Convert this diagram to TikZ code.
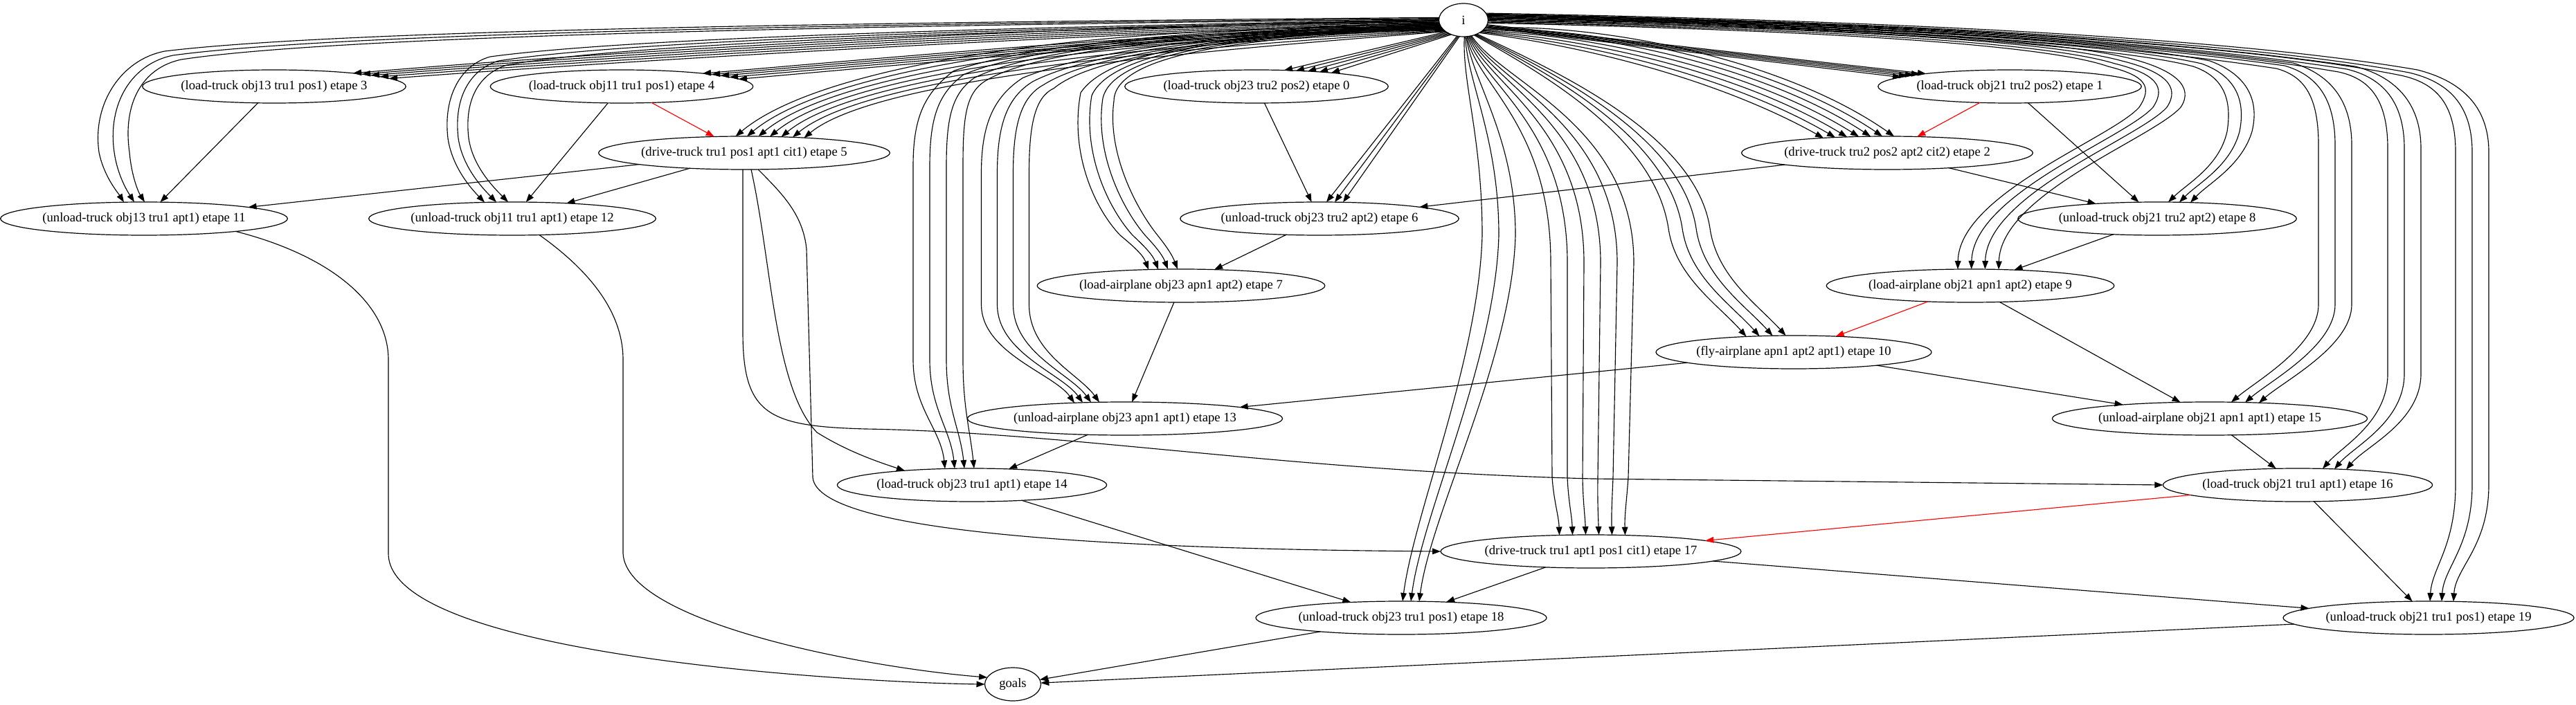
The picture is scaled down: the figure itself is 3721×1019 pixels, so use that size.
\documentclass[tikz,border=0pt]{standalone}
\usepackage{fontspec}
\setmainfont{Liberation Serif}
\usetikzlibrary{shapes.geometric,arrows.meta,calc}
\newcommand\tpc[4]{\coordinate (#1) at ($(#2.center)+({#3},{-24*sqrt(1-((#3)/(#4))^2)})$);}
\newcommand\bpc[4]{\coordinate (#1) at ($(#2.center)+({#3},{24*sqrt(1-((#3)/(#4))^2)})$);}
\begin{document}
\begin{tikzpicture}[x=0.75pt,y=-0.75pt,
  nd/.style={draw,ellipse,line width=0.9pt,inner sep=0pt,outer sep=0pt,minimum height=36pt,font=\fontsize{14}{16}\selectfont},
  ew/.style={minimum width=#1*0.75pt},
  e/.style={line width=0.85pt,-{Triangle[length=9pt,width=6.5pt]}},
  er/.style={e,red}]
\useasboundingbox (0,0) rectangle (3721,1019);
% nodes
\node[nd,ew=71]  (i)   at (2114,29)  {i};
\node[nd,ew=378] (n0)  at (1815,125) {(load-truck obj23 tru2 pos2) etape 0};
\node[nd,ew=377] (n1)  at (2903,125) {(load-truck obj21 tru2 pos2) etape 1};
\node[nd,ew=412] (n2)  at (2726,221) {(drive-truck tru2 pos2 apt2 cit2) etape 2};
\node[nd,ew=378] (n3)  at (396,125)  {(load-truck obj13 tru1 pos1) etape 3};
\node[nd,ew=377] (n4)  at (898,125)  {(load-truck obj11 tru1 pos1) etape 4};
\node[nd,ew=413] (n5)  at (1075,221) {(drive-truck tru1 pos1 apt1 cit1) etape 5};
\node[nd,ew=395] (n6)  at (1906,316) {(unload-truck obj23 tru2 apt2) etape 6};
\node[nd,ew=406] (n7)  at (1706,413) {(load-airplane obj23 apn1 apt2) etape 7};
\node[nd,ew=394] (n8)  at (3116,316) {(unload-truck obj21 tru2 apt2) etape 8};
\node[nd,ew=405] (n9)  at (2846,413) {(load-airplane obj21 apn1 apt2) etape 9};
\node[nd,ew=388] (n10) at (2591,509) {(fly-airplane apn1 apt2 apt1) etape 10};
\node[nd,ew=409] (n11) at (208,316)  {(unload-truck obj13 tru1 apt1) etape 11};
\node[nd,ew=407] (n12) at (740,316)  {(unload-truck obj11 tru1 apt1) etape 12};
\node[nd,ew=441] (n13) at (1625,605) {(unload-airplane obj23 apn1 apt1) etape 13};
\node[nd,ew=383] (n14) at (1404,701) {(load-truck obj23 tru1 apt1) etape 14};
\node[nd,ew=439] (n15) at (3192,605) {(unload-airplane obj21 apn1 apt1) etape 15};
\node[nd,ew=384] (n16) at (3319,701) {(load-truck obj21 tru1 apt1) etape 16};
\node[nd,ew=426] (n17) at (2298,797) {(drive-truck tru1 apt1 pos1 cit1) etape 17};
\node[nd,ew=418] (n18) at (2024,893) {(unload-truck obj23 tru1 pos1) etape 18};
\node[nd,ew=413] (n19) at (3508,893) {(unload-truck obj21 tru1 pos1) etape 19};
\node[nd,ew=81]  (goals) at (1463,989) {goals};
% ---- bundles from i ----
% n11
\foreach \k [evaluate=\k as \ang using {int(176+2*\k)}] in {-1,0,1}{
  \tpc{E}{n11}{-14+15*\k}{204.5}
  \draw[e] (i.\ang) .. controls (1300,{34+2*\k}) and (500,{46+4*\k}) .. ({250+12*\k},{80+6*\k})
    .. controls ({190+15*\k},{92+6*\k}) and ({155+22*\k},150) .. ({165+22*\k},220)
    .. controls ({170+20*\k},255) and ({185+15*\k},278) .. (E);
}
% n12
\foreach \k [evaluate=\k as \ang using {int(181+2*\k)}] in {-1,0,1}{
  \tpc{E}{n12}{-23+17*\k}{203.5}
  \draw[e] (i.\ang) .. controls (1400,{42+2*\k}) and (900,{60+4*\k}) .. ({720+12*\k},{88+6*\k})
    .. controls ({680+15*\k},{100+6*\k}) and ({655+15*\k},140) .. ({662+15*\k},200)
    .. controls ({668+15*\k},240) and ({695+17*\k},270) .. (E);
}
% n3
\foreach \k [evaluate=\k as \ang using {int(185+2*\k)}] in {-2,...,2}{
  \tpc{E}{n3}{140+13*\k}{189}
  \draw[e] (i.\ang) .. controls (1600,{40+3*\k}) and (900,{80+4*\k}) .. (E);
}
% n14
\foreach \k [evaluate=\k as \ang using {int(189+2*\k)}] in {-1.5,-0.5,0.5,1.5}{
  \tpc{E}{n14}{-18+14*\k}{191.5}
  \draw[e] (i.\ang) .. controls (1750,{45+2*\k}) and (1500,{65+3*\k}) .. ({1400+15*\k},{110+5*\k})
    .. controls ({1365+20*\k},135) and ({1355+24*\k},170) .. ({1355+24*\k},240)
    -- ({1355+24*\k},520) .. controls ({1355+24*\k},590) and ({1380+14*\k},620) .. (E);
}
% n13
\foreach \k [evaluate=\k as \ang using {int(193+2*\k)}] in {-1.5,-0.5,0.5,1.5}{
  \tpc{E}{n13}{-55+12*\k}{220.5}
  \draw[e] (i.\ang) .. controls (1780,{50+2*\k}) and (1580,{75+3*\k}) .. ({1500+15*\k},{120+5*\k})
    .. controls ({1465+20*\k},140) and ({1452+23*\k},180) .. ({1452+23*\k},250)
    -- ({1452+23*\k},440) .. controls ({1452+23*\k},510) and ({1540+12*\k},540) .. (E);
}
% n4
\foreach \k [evaluate=\k as \ang using {int(197+2*\k)}] in {-2,...,2}{
  \tpc{E}{n4}{143+13*\k}{188.5}
  \draw[e] (i.\ang) .. controls (1700,{50+3*\k}) and (1300,{88+3*\k}) .. (E);
}
% n7
\foreach \k [evaluate=\k as \ang using {int(201+2*\k)}] in {-1.5,-0.5,0.5,1.5}{
  \tpc{E}{n7}{-26+14*\k}{203}
  \draw[e] (i.\ang) .. controls (1850,{48+2*\k}) and (1610,{65+3*\k}) .. ({1585+16*\k},{140+4*\k})
    .. controls ({1572+18*\k},220) and ({1610+20*\k},300) .. ({1645+18*\k},340)
    .. controls ({1660+16*\k},355) and ({1672+14*\k},368) .. (E);
}
% n5
\foreach \k [evaluate=\k as \ang using {int(207+2*\k)}] in {-3,...,3}{
  \tpc{E}{n5}{37+16.5*\k}{206.5}
  \draw[e] (i.\ang) .. controls (1650,{55+8*\k}) and ({1230+10*\k},{100+6*\k}) .. (E);
}
% n0
\foreach \k [evaluate=\k as \ang using {int(222+4*\k)}] in {-2,...,2}{
  \tpc{E}{n0}{74+17*\k}{189}
  \draw[e] (i.\ang) -- (E);
}
% n6
\foreach \k [evaluate=\k as \ang using {int(252+4*\k)}] in {-1,0,1}{
  \tpc{E}{n6}{22+12*\k}{197.5}
  \draw[e] (i.\ang) -- (E);
}
% n18
\foreach \k [evaluate=\k as \ang using {int(276+3*\k)}] in {-1,0,1}{
  \tpc{E}{n18}{14+12*\k}{209}
  \draw[e] (i.\ang) .. controls ({2120+8*\k},120) and ({2165+24*\k},200) .. ({2165+24*\k},340)
    .. controls ({2160+24*\k},520) and ({2055+12*\k},740) .. (E);
}
% n17
\foreach \k [evaluate=\k as \ang using {int(290+3*\k)}] in {-2.5,-1.5,-0.5,0.5,1.5,2.5}{
  \tpc{E}{n17}{2+19*\k}{213}
  \draw[e] (i.\ang) .. controls ({2150+8*\k},120) and ({2300+24*\k},180) .. ({2300+24*\k},380)
    -- ({2297+22*\k},690) .. controls ({2297+21*\k},725) and ({2299+19*\k},745) .. (E);
}
% n10
\foreach \k [evaluate=\k as \ang using {int(310+3*\k)}] in {-1.5,-0.5,0.5,1.5}{
  \tpc{E}{n10}{-40+19*\k}{194}
  \draw[e] (i.\ang) .. controls ({2250+10*\k},110) and ({2420+20*\k},200) .. ({2440+20*\k},330)
    .. controls ({2450+20*\k},400) and ({2510+19*\k},440) .. (E);
}
% n2
\foreach \k [evaluate=\k as \ang using {int(330+3*\k)}] in {-3,...,3}{
  \tpc{E}{n2}{-41+17*\k}{206}
  \draw[e] (i.\ang) .. controls (2300,{50-6*\k}) and ({2530+14*\k},{100-6*\k}) .. (E);
}
% n1
\foreach \k [evaluate=\k as \ang using {int(345+2*\k)}] in {-2,...,2}{
  \tpc{E}{n1}{-139+9*\k}{188.5}
  \draw[e] (i.\ang) -- (E);
}
% n9
\foreach \k [evaluate=\k as \ang using {int(356+2*\k)}] in {-1.5,-0.5,0.5,1.5}{
  \tpc{E}{n9}{11.5+19.7*\k}{202.5}
  \draw[e] (i.\ang) .. controls (2600,{40-2*\k}) and (2950,{58-3*\k}) .. ({3060+10*\k},{90-4*\k})
    .. controls ({3120+14*\k},{105-3*\k}) and ({3140+20*\k},125) .. ({3120+20*\k},155)
    .. controls ({3080+20*\k},200) and ({2860+20*\k},280) .. (E);
}
% n8
\foreach \k [evaluate=\k as \ang using {int(3+2*\k)}] in {-1,0,1}{
  \tpc{E}{n8}{32+16*\k}{197}
  \draw[e] (i.\ang) .. controls (2650,{36-2*\k}) and (3050,{62-3*\k}) .. ({3180+12*\k},{92-4*\k})
    .. controls ({3225+16*\k},{108-2*\k}) and ({3245+20*\k},140) .. ({3235+18*\k},190)
    .. controls ({3222+16*\k},240) and ({3175+15*\k},265) .. (E);
}
% n15
\foreach \k [evaluate=\k as \ang using {int(7+2*\k)}] in {-1,0,1}{
  \tpc{E}{n15}{51+20*\k}{219.5}
  \draw[e] (i.\ang) .. controls (2700,{35-2*\k}) and (3050,{60-3*\k}) .. ({3300+12*\k},{95-4*\k})
    .. controls ({3345+16*\k},{108-2*\k}) and ({3373+24*\k},140) .. ({3373+24*\k},210)
    -- ({3373+24*\k},440) .. controls ({3373+24*\k},500) and ({3280+20*\k},550) .. (E);
}
% n16
\foreach \k [evaluate=\k as \ang using {int(11+2*\k)}] in {-1,0,1}{
  \tpc{E}{n16}{53+17*\k}{192}
  \draw[e] (i.\ang) .. controls (2750,{34-2*\k}) and (3150,{62-3*\k}) .. ({3390+12*\k},{100-4*\k})
    .. controls ({3440+16*\k},{112-2*\k}) and ({3473+24*\k},145) .. ({3473+24*\k},215)
    -- ({3473+24*\k},540) .. controls ({3473+24*\k},610) and ({3400+17*\k},645) .. (E);
}
% n19
\foreach \k [evaluate=\k as \ang using {int(15+2*\k)}] in {-1,0,1}{
  \tpc{E}{n19}{19+17*\k}{206.5}
  \draw[e] (i.\ang) .. controls (2800,{33-2*\k}) and (3250,{62-3*\k}) .. ({3480+12*\k},{105-4*\k})
    .. controls ({3535+16*\k},{118-2*\k}) and ({3571+24*\k},150) .. ({3571+24*\k},220)
    -- ({3571+24*\k},700) .. controls ({3571+24*\k},790) and ({3530+17*\k},820) .. (E);
}
% ---- other edges ----
\draw[e]  (n0) -- (n6);
\draw[er] (n1) -- (n2);
\draw[e]  (n1) -- (n8);
\draw[e]  (n2) -- (n6);
\draw[e]  (n2) -- (n8);
\draw[e]  (n3) -- (n11);
\draw[er] (n4) -- (n5);
\draw[e]  (n4) -- (n12);
\draw[e]  (n5) -- (n11);
\draw[e]  (n5) -- (n12);
\draw[e]  (n6) -- (n7);
\draw[e]  (n7) -- (n13);
\draw[e]  (n8) -- (n9);
\draw[er] (n9) -- (n10);
\draw[e]  (n9) -- (n15);
\draw[e]  (n10) -- (n13);
\draw[e]  (n10) -- (n15);
\draw[e]  (n13) -- (n14);
\draw[e]  (n14) -- (n18);
\draw[e]  (n15) -- (n16);
\draw[er] (n16) -- (n17);
\draw[e]  (n16) -- (n19);
\draw[e]  (n17) -- (n18);
\draw[e]  (n17) -- (n19);
\draw[e]  (n18) -- (goals);
\draw[e]  (n19) -- (goals);
% curved edges from n5
\bpc{S5a}{n5}{-2}{206.5}
\draw[e] (S5a) -- (1073,480) .. controls (1073,600) and (1110,616) .. (1250,620)
  .. controls (1550,625) and (1850,680) .. (2300,692) -- (n16.west);
\bpc{S5b}{n5}{10}{206.5}
\tpc{E14}{n14}{-97}{191.5}
\draw[e] (S5b) .. controls (1115,380) and (1118,560) .. (1180,625)
  .. controls (1220,650) and (1260,665) .. (E14);
\bpc{S5c}{n5}{20}{206.5}
\draw[e] (S5c) .. controls (1130,280) and (1160,310) .. (1165,360) -- (1174,690)
  .. controls (1180,760) and (1500,793) .. (n17.west);
% to goals
\bpc{S11}{n11}{132}{204.5}
\draw[e] (S11) .. controls (480,370) and (561,440) .. (561,520) -- (561,800)
  .. controls (561,950) and (1250,987) .. (goals.west);
\bpc{S12}{n12}{39}{203.5}
\draw[e] (S12) .. controls (850,390) and (900,450) .. (900,520) -- (900,800)
  .. controls (905,900) and (1250,965) .. (goals.165);
\end{tikzpicture}
\end{document}
